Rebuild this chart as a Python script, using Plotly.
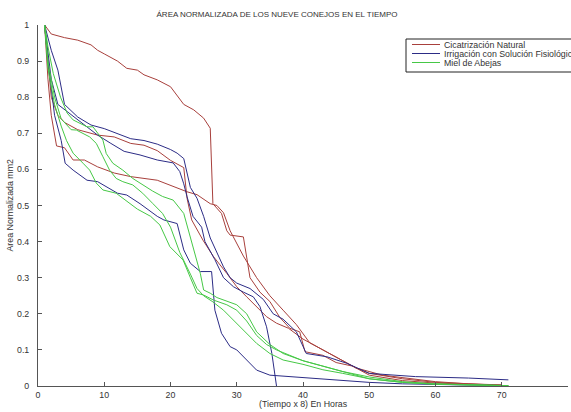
import plotly.graph_objects as go

# ---------------- data ----------------
red_a_x = [1, 2, 4, 6, 8, 9, 10, 12, 13.4, 15, 16, 18, 20, 22, 23.5, 25, 26, 26.4, 27.7, 28.5, 29, 31, 32, 33.5, 35, 36.5, 38, 39.5, 40.3, 43, 45, 47.5, 50, 55, 60, 65, 70]
red_a_y = [1, 0.975, 0.965, 0.958, 0.945, 0.93, 0.92, 0.9, 0.88, 0.875, 0.862, 0.848, 0.829, 0.78, 0.765, 0.742, 0.714, 0.505, 0.478, 0.43, 0.418, 0.413, 0.3, 0.26, 0.234, 0.19, 0.16, 0.15, 0.095, 0.085, 0.065, 0.055, 0.03, 0.015, 0.008, 0.004, 0.002]

red_b_x = [1, 1.5, 2, 3, 4, 6, 9, 11.5, 14, 16, 18, 20, 22, 22.5, 23.2, 24.9, 26.5, 28.5, 30, 31.5, 33, 34.5, 36, 37.8, 40, 42, 44, 46, 48, 50, 55, 60, 65, 70]
red_b_y = [1, 0.9, 0.8, 0.75, 0.73, 0.71, 0.695, 0.69, 0.672, 0.667, 0.652, 0.625, 0.605, 0.52, 0.46, 0.404, 0.358, 0.312, 0.275, 0.247, 0.22, 0.192, 0.174, 0.16, 0.13, 0.11, 0.09, 0.07, 0.05, 0.035, 0.02, 0.01, 0.005, 0.002]

red_c_x = [1, 1.5, 2, 2.8, 4, 5.3, 7, 9, 11.5, 14, 18, 20.5, 22.5, 24, 26, 27, 28, 29, 31, 33, 35, 37, 39, 41, 43, 45, 48, 52, 56, 60, 65, 70]
red_c_y = [1, 0.85, 0.75, 0.665, 0.66, 0.626, 0.626, 0.607, 0.59, 0.58, 0.57, 0.552, 0.538, 0.53, 0.505, 0.5, 0.48, 0.43, 0.36, 0.3, 0.25, 0.21, 0.17, 0.12, 0.1, 0.08, 0.05, 0.03, 0.02, 0.012, 0.006, 0.003]

blue_a_x = [1, 2, 3, 4, 6, 8, 10, 12, 14, 16, 18, 20, 21, 22, 23, 24, 25, 26, 27, 28, 29, 30, 32, 34, 35.5, 37, 39, 40.5, 43.6, 46.6, 50, 57, 65, 71]
blue_a_y = [1, 0.93, 0.875, 0.78, 0.745, 0.723, 0.713, 0.7, 0.685, 0.68, 0.67, 0.655, 0.645, 0.63, 0.55, 0.52, 0.47, 0.41, 0.37, 0.33, 0.3, 0.285, 0.27, 0.24, 0.2, 0.185, 0.15, 0.09, 0.081, 0.063, 0.035, 0.026, 0.022, 0.017]

blue_b_x = [1, 2, 3, 4.4, 6.8, 9, 11, 13, 15.4, 18, 20.4, 21.4, 22, 22.5, 23.4, 24.7, 25.2, 26.7, 28, 29.5, 31, 32.5, 33.5, 34.5, 35.3, 36]
blue_b_y = [1, 0.85, 0.78, 0.76, 0.728, 0.695, 0.672, 0.65, 0.64, 0.626, 0.618, 0.594, 0.56, 0.524, 0.47, 0.44, 0.4, 0.35, 0.3, 0.275, 0.26, 0.247, 0.22, 0.164, 0.09, 0.0]

blue_c_x = [1, 1.5, 2.5, 3.5, 4.1, 5.3, 7.4, 9, 12, 13.4, 15.4, 18, 19, 21, 22, 23, 24.5, 26.2, 26.7, 27.7, 29, 30, 31.5, 33, 35, 38, 40, 45, 50, 55, 60, 65, 70]
blue_c_y = [1, 0.9, 0.75, 0.68, 0.617, 0.598, 0.57, 0.566, 0.534, 0.529, 0.505, 0.47, 0.46, 0.45, 0.377, 0.34, 0.317, 0.317, 0.21, 0.146, 0.109, 0.1, 0.072, 0.044, 0.03, 0.026, 0.022, 0.015, 0.01, 0.006, 0.004, 0.002, 0.001]

green_a_x = [1, 1.5, 2.3, 3.4, 4.4, 5.3, 7.4, 8.3, 9.8, 10.3, 11.3, 12.8, 14.3, 15.8, 17.3, 18.8, 20.4, 22, 23.4, 24.5, 25, 26, 27, 28.5, 30, 31.5, 33, 35, 37, 40, 43, 46, 50, 55, 60, 65, 71]
green_a_y = [1, 0.94, 0.866, 0.8, 0.756, 0.737, 0.718, 0.718, 0.681, 0.644, 0.617, 0.598, 0.575, 0.557, 0.54, 0.525, 0.515, 0.478, 0.386, 0.312, 0.266, 0.257, 0.245, 0.235, 0.225, 0.2, 0.15, 0.115, 0.09, 0.07, 0.055, 0.04, 0.025, 0.012, 0.006, 0.003, 0.001]

green_b_x = [1, 1.5, 2.5, 3.5, 5, 5.8, 7.8, 8.8, 9.8, 10.8, 11.8, 12.8, 14.3, 15.8, 17.3, 18.8, 20, 21.4, 23, 24, 25, 26.4, 28, 29, 31, 33, 35, 37, 40, 43, 46, 50, 55, 60, 65, 71]
green_b_y = [1, 0.9, 0.8, 0.74, 0.71, 0.709, 0.69, 0.672, 0.635, 0.598, 0.575, 0.566, 0.557, 0.534, 0.506, 0.478, 0.44, 0.37, 0.31, 0.27, 0.25, 0.233, 0.21, 0.192, 0.155, 0.118, 0.09, 0.072, 0.06, 0.045, 0.035, 0.02, 0.01, 0.005, 0.003, 0.001]

green_c_x = [1, 1.5, 2.5, 3.5, 4.3, 5.3, 6.8, 7.8, 8.8, 9.8, 11.8, 13.8, 15, 17, 18.4, 19.9, 21.9, 23, 24, 25, 26.5, 28.5, 30, 31.5, 33, 34.5, 36, 38, 40, 42, 44, 46, 48, 50, 55, 60, 65, 71]
green_c_y = [1, 0.88, 0.78, 0.72, 0.68, 0.645, 0.617, 0.598, 0.562, 0.543, 0.534, 0.506, 0.49, 0.47, 0.446, 0.386, 0.349, 0.3, 0.257, 0.252, 0.238, 0.225, 0.21, 0.18, 0.14, 0.115, 0.1, 0.085, 0.07, 0.06, 0.05, 0.04, 0.03, 0.02, 0.01, 0.005, 0.003, 0.001]

legend_names = ["Cicatrización Natural", "Irrigación con Solución Fisiológica", "Miel de Abejas"]
title_text = "ÁREA NORMALIZADA DE LOS NUEVE CONEJOS EN EL TIEMPO"
x_label = "(Tiempo x 8) En Horas"
y_label = "Area Normalizada mm2"
x_ticks = [0, 10, 20, 30, 40, 50, 60, 70, 80]
y_ticks = [0, 0.1, 0.2, 0.3, 0.4, 0.5, 0.6, 0.7, 0.8, 0.9, 1]

# ---------------- style ----------------
RED = "#A8403C"
BLUE = "#2C2C86"
GREEN = "#46C846"
FONT = "Liberation Sans, Arial, sans-serif"
TXT = "#333333"

groups = [
    (legend_names[0], RED, [(red_a_x, red_a_y), (red_b_x, red_b_y), (red_c_x, red_c_y)]),
    (legend_names[1], BLUE, [(blue_a_x, blue_a_y), (blue_b_x, blue_b_y), (blue_c_x, blue_c_y)]),
    (legend_names[2], GREEN, [(green_a_x, green_a_y), (green_b_x, green_b_y), (green_c_x, green_c_y)]),
]

fig = go.Figure()
for name, color, series in groups:
    for i, (xs, ys) in enumerate(series):
        fig.add_trace(go.Scatter(
            x=xs, y=ys, mode="lines", name=name, legendgroup=name,
            showlegend=False, line=dict(color=color, width=1),
        ))

L, R, T, B = 38, 3, 25, 26
W, H = 571, 412
pw, ph = W - L - R, H - T - B

def px_x(p):
    return (p - L) / pw

def px_y(p):
    return (H - B - p) / ph

# compact MATLAB-style legend box
shapes = [dict(type="rect", xref="paper", yref="paper",
               x0=px_x(406), x1=px_x(620), y0=px_y(72), y1=px_y(39),
               line=dict(color="#222222", width=1), fillcolor="white", layer="above")]
annotations = []
rows = [44.5, 53.5, 62.5]
for (name, color, _), ry in zip(groups, rows):
    shapes.append(dict(type="line", xref="paper", yref="paper",
                       x0=px_x(412), x1=px_x(440), y0=px_y(ry), y1=px_y(ry),
                       line=dict(color=color, width=1), layer="above"))
    annotations.append(dict(text=name, xref="paper", yref="paper",
                            x=px_x(441.5), y=px_y(ry), xanchor="left", yanchor="middle",
                            showarrow=False, font=dict(family=FONT, size=8.8, color=TXT)))

annotations.append(dict(text=x_label, xref="paper", yref="paper", x=0.5, y=0,
                        xanchor="center", yanchor="middle", yshift=-18, showarrow=False,
                        font=dict(family=FONT, size=8.8, color=TXT)))
annotations.append(dict(text=y_label, xref="paper", yref="paper", x=0, y=0.5,
                        xanchor="center", yanchor="middle", xshift=-29, textangle=-90,
                        showarrow=False, font=dict(family=FONT, size=8.8, color=TXT)))

fig.update_layout(
    width=W, height=H, autosize=False,
    margin=dict(l=L, r=R, t=T, b=B, pad=0),
    paper_bgcolor="white", plot_bgcolor="white",
    showlegend=False,
    hovermode=False,
    title=dict(text=title_text, x=277 / W, xref="container", xanchor="center",
               y=1 - 14.5 / H, yref="container", yanchor="middle",
               font=dict(family=FONT, size=8, color=TXT)),
    shapes=shapes, annotations=annotations,
    font=dict(family=FONT, size=8.8, color=TXT),
)
fig.update_xaxes(range=[0, 80], tickvals=x_ticks, ticks="inside", ticklen=4,
                 tickcolor="#555555", showline=True, linecolor="#555555", linewidth=1,
                 showgrid=False, zeroline=False, tickfont=dict(family=FONT, size=8.8, color=TXT))
fig.update_yaxes(range=[0, 1], tickvals=y_ticks, ticktext=[f"{v:g}" for v in y_ticks],
                 ticks="inside", ticklen=4, tickcolor="#555555", showline=True,
                 linecolor="#555555", linewidth=1, showgrid=False, zeroline=False,
                 ticklabelstandoff=6, tickfont=dict(family=FONT, size=8.8, color=TXT))

fig.write_html("out.html", config={"displayModeBar": False},
               post_script="document.body.style.margin='0';document.body.style.overflow='hidden';")
